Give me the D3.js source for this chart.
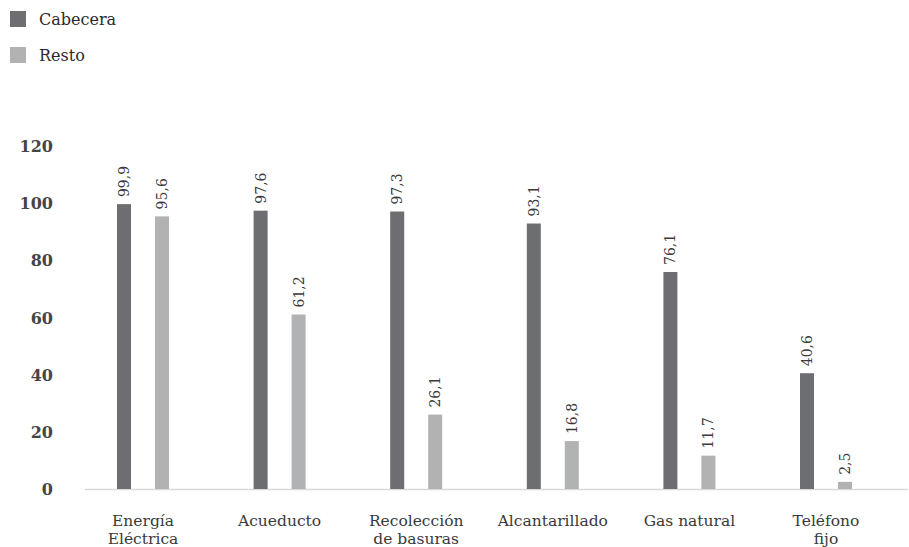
<!DOCTYPE html>
<html>
<head>
<meta charset="utf-8">
<script src="https://cdn.jsdelivr.net/npm/d3@7"></script>
<style>
  html, body { margin: 0; padding: 0; background: #fff; }
  svg { display: block; font-family: "DejaVu Serif", serif; }
</style>
</head>
<body>
<svg id="chart" width="909" height="547"></svg>
<script>
// Cobertura de servicios públicos (%), cabecera frente a resto
const categories = [["Energía", "Eléctrica"], ["Acueducto"], ["Recolección", "de basuras"], ["Alcantarillado"], ["Gas natural"], ["Teléfono", "fijo"]];
const seriesNames = ["Cabecera", "Resto"];
const cabecera = [99.9, 97.6, 97.3, 93.1, 76.1, 40.6];
const resto = [95.6, 61.2, 26.1, 16.8, 11.7, 2.5];
const yTicks = [0, 20, 40, 60, 80, 100, 120];
const colors = ["#6d6e71", "#b1b2b4"];

const svg = d3.select("#chart");
const fmt = v => d3.format(".1f")(v).replace(".", ",");

const x = d3.scaleBand().domain(d3.range(categories.length)).range([74.7, 894.3]);
const y = d3.scaleLinear().domain([0, 120]).range([489, 146.8]);
const offsets = [-26, 12]; // left edge of each bar relative to band centre
const barW = 14;

// y tick labels
svg.append("g").selectAll("text").data(yTicks).join("text")
  .attr("x", 53).attr("y", d => y(d)).attr("dy", "0.35em")
  .attr("text-anchor", "end")
  .attr("font-size", 16).attr("font-weight", "bold").attr("fill", "#454545")
  .text(d => d);

// baseline
svg.append("line").attr("x1", 85).attr("x2", 908).attr("y1", y(0) + 0.5).attr("y2", y(0) + 0.5)
  .attr("stroke", "#d9d9d9").attr("stroke-width", 1.5);

const series = [cabecera, resto];
series.forEach((vals, si) => {
  const g = svg.append("g");
  g.selectAll("rect").data(vals).join("rect")
    .attr("x", (d, i) => x(i) + x.bandwidth() / 2 + offsets[si])
    .attr("width", barW)
    .attr("y", d => y(d))
    .attr("height", d => y(0) - y(d))
    .attr("fill", colors[si]);
  g.selectAll("text").data(vals).join("text")
    .attr("transform", (d, i) => `translate(${x(i) + x.bandwidth() / 2 + offsets[si] + barW / 2 + 5},${y(d) - 7}) rotate(-90)`)
    .attr("font-size", 14).attr("fill", "#3a3a3a")
    .text(d => fmt(d));
});

// category labels
svg.append("g").selectAll("text").data(categories).join("text")
  .attr("x", (d, i) => x(i) + x.bandwidth() / 2)
  .attr("y", 526)
  .attr("text-anchor", "middle").attr("font-size", 15.5).attr("fill", "#3a3a3a")
  .each(function (lines) {
    d3.select(this).selectAll("tspan").data(lines).join("tspan")
      .attr("x", d3.select(this).attr("x"))
      .attr("dy", (l, j) => j === 0 ? 0 : 18)
      .text(l => l);
  });

// legend
const leg = svg.append("g").selectAll("g").data(seriesNames).join("g")
  .attr("transform", (d, i) => `translate(10,${11 + i * 36})`);
leg.append("rect").attr("width", 16).attr("height", 16).attr("fill", (d, i) => colors[i]);
leg.append("text").attr("x", 29).attr("y", 14).attr("font-size", 16).attr("fill", "#2a2a2a").text(d => d);
</script>
</body>
</html>
